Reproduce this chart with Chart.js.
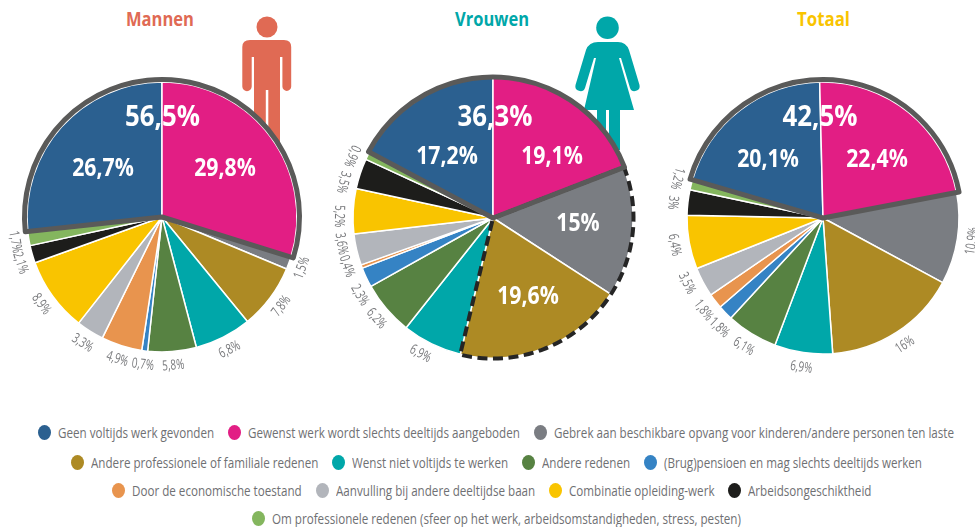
<!DOCTYPE html>
<html><head><meta charset="utf-8">
<script src="https://cdn.jsdelivr.net/npm/chart.js@4"></script>
<style>
html,body{margin:0;padding:0;background:#fff;width:975px;height:527px;overflow:hidden;font-family:"Open Sans",sans-serif}
canvas{position:absolute}
svg{position:absolute;left:0;top:0}
.row{position:absolute;width:975px;display:flex;justify-content:center;align-items:center;color:#6f7073;font-size:15px;height:20px;white-space:nowrap}
.item{display:flex;align-items:center;margin:0 7px}
.dot{width:13px;height:15px;border-radius:50%;margin-right:7px;flex:none}
.txt{display:block;overflow:visible;height:20px;line-height:20px}
.txt span{display:inline-block;transform-origin:0 50%}
</style></head><body>
<svg width="975" height="527">
  <g font-family="Open Sans" font-weight="bold" font-size="20" text-anchor="middle">
    <text x="160" y="26" fill="#e06a54" textLength="68" lengthAdjust="spacingAndGlyphs">Mannen</text>
    <text x="492" y="26" fill="#00a7a9" textLength="74" lengthAdjust="spacingAndGlyphs">Vrouwen</text>
    <text x="823.5" y="26" fill="#f9c400" textLength="53" lengthAdjust="spacingAndGlyphs">Totaal</text>
  </g>
  <g fill="#e06a54">
    <circle cx="267" cy="27" r="10.5"/>
    <path d="M250 40H284Q291.2 40 291.2 47V86.5A4.4 4.4 0 0 1 282.4 86.5V57H280V150H254V57H251.7V86.5A4.7 4.7 0 0 1 242.3 86.5V47Q242.3 40 250 40Z"/>
  </g>
  <rect x="265.8" y="90" width="2.5" height="60" fill="#fff"/>
  <g fill="#00a7a9">
    <circle cx="607.5" cy="27.7" r="11.3"/>
    <path d="M598 42H618Q626 42 629 50L639.5 85A5 5 0 0 1 630 88L621 58H619L634 110H584L596 58H594L585 88A5 5 0 0 1 575.5 85L586 50Q589 42 598 42Z"/>
    <rect x="597" y="109" width="9" height="41"/>
    <rect x="609" y="109" width="11" height="41"/>
  </g>
</svg>
<canvas id="c1" width="320" height="320" style="left:2px;top:57px"></canvas>
<canvas id="c2" width="320" height="320" style="left:333px;top:58px"></canvas>
<canvas id="c3" width="320" height="320" style="left:663px;top:58px"></canvas>
<div class="row" id="r0" style="left:8.5px;top:422px"></div>
<div class="row" id="r1" style="left:9px;top:452px"></div>
<div class="row" id="r2" style="left:4.5px;top:480px"></div>
<div class="row" id="r3" style="left:8.5px;top:508px"></div>
<script>
const categories = ["Geen voltijds werk gevonden","Gewenst werk wordt slechts deeltijds aangeboden","Gebrek aan beschikbare opvang voor kinderen/andere personen ten laste","Andere professionele of familiale redenen","Wenst niet voltijds te werken","Andere redenen","(Brug)pensioen en mag slechts deeltijds werken","Door de economische toestand","Aanvulling bij andere deeltijdse baan","Combinatie opleiding-werk","Arbeidsongeschiktheid","Om professionele redenen (sfeer op het werk, arbeidsomstandigheden, stress, pesten)"];
const colors = ["#2b6090","#e21e84","#7a7d82","#ad8a24","#00a7a9","#578242","#3583c4","#e8944e","#b2b5bb","#f9c400","#1d1d1b","#84b65e"];
const mannen  = [26.7,29.8,1.5,7.8,6.8,5.8,0.7,4.9,3.3,8.9,2.1,1.7];
const vrouwen = [17.2,19.1,15,19.6,6.9,6.2,2.3,0.4,3.6,5.2,3.5,0.9];
const totaal  = [20.1,22.4,10.9,16,6.9,6.1,1.8,1.8,3.5,6.4,3,1.2];
const legendRows = [[0,1,2],[3,4,5,6],[7,8,9,10],[11]];

// Text placement only (offsets from the pie centre in px, angle nudges in degrees)
const setups = [
 {id:"c1",values:mannen,radius:135,gap:14,tilt:0,outlineExtra:2.5,total:"56,5%",totalAt:[0.5,-99],
  inside:{0:[-59,-48],1:[63,-48]},nudge:{10:-2,11:-0.5}},
 {id:"c2",values:vrouwen,radius:140,gap:14,tilt:0,outlineExtra:1,dashed:[2,3],total:"36,3%",totalAt:[2,-100],
  inside:{0:[-46,-61],1:[59,-61],2:[85,6],3:[35,79]},nudge:{4:2.2,5:-0.3,6:-4.9,7:2,8:3.4,9:-2.1,10:-5,11:-2.7}},
 {id:"c3",values:totaal,radius:136,gap:15,tilt:-1.4,outlineExtra:2.5,total:"42,5%",totalAt:[-3,-100],
  inside:{0:[-55,-58],1:[54,-58]},nudge:{6:-2.5,8:2.5,10:-0.7,11:1}}
];
const solidGroup = [0,1];
const fmt = v => String(v).replace(".",",")+"%";

function squeezed(ctx,text,x,y,sx){
  ctx.save();ctx.translate(x,y);ctx.scale(sx,1);ctx.fillText(text,0,0);ctx.restore();
}

const outlinePlugin = {
  id:"outlines",
  afterDraw(chart,args,opts){
    const ctx = chart.ctx, arcs = chart.getDatasetMeta(0).data, s = opts.setup;
    const cx = arcs[0].x, cy = arcs[0].y;
    const outline = (idx,color,w,dash,extra)=>{
      ctx.save();
      ctx.beginPath();
      ctx.moveTo(cx,cy);
      ctx.arc(cx,cy,s.radius+extra,arcs[idx[0]].startAngle,arcs[idx[idx.length-1]].endAngle);
      ctx.closePath();
      ctx.strokeStyle=color;ctx.lineWidth=w;ctx.setLineDash(dash);ctx.lineJoin="round";ctx.stroke();
      ctx.restore();
    };
    if(s.dashed) outline(s.dashed,"#252525",4,[10,5.5],0.5);
    outline(solidGroup,"#5a5a59",5,[],s.outlineExtra);
    ctx.save();
    ctx.textAlign="center";ctx.textBaseline="middle";
    s.values.forEach((v,i)=>{
      if(s.inside[i]){
        ctx.fillStyle="#fff";ctx.font='bold 25px "Open Sans"';
        squeezed(ctx,fmt(v),cx+s.inside[i][0],cy+s.inside[i][1],0.85);
      } else {
        const a=arcs[i];
        const mid=(a.startAngle+a.endAngle)/2+(s.nudge[i]||0)*Math.PI/180;
        const r=s.radius+s.gap;
        ctx.save();
        ctx.translate(cx+Math.cos(mid)*r,cy+Math.sin(mid)*r);
        ctx.rotate(mid-Math.PI/2);
        ctx.fillStyle="#77787b";ctx.font='14px "Open Sans"';
        squeezed(ctx,fmt(v),0,0,0.71);
        ctx.restore();
      }
    });
    ctx.fillStyle="#fff";ctx.font='bold 29px "Open Sans"';
    squeezed(ctx,s.total,cx+s.totalAt[0],cy+s.totalAt[1],0.89);
    ctx.restore();
  }
};

setups.forEach(s=>{
  new Chart(document.getElementById(s.id),{
    type:"pie",
    data:{labels:categories,datasets:[{data:s.values,backgroundColor:colors,borderColor:"#fff",borderWidth:1.5}]},
    options:{
      responsive:false,animation:false,
      radius:s.radius,
      rotation:s.tilt-s.values[0]/s.values.reduce((a,b)=>a+b,0)*360,
      layout:{padding:0},
      plugins:{legend:{display:false},tooltip:{enabled:false},outlines:{setup:s}}
    },
    plugins:[outlinePlugin]
  });
});

// Legend text is condensed to the reference's width
const meas=document.createElement("canvas").getContext("2d");
meas.font='15px "Open Sans"';
const legendScale=400/meas.measureText(categories[2]).width;
legendRows.forEach((row,i)=>{
  const el=document.getElementById("r"+i);
  row.forEach(k=>{
    const it=document.createElement("div");it.className="item";
    const d=document.createElement("span");d.className="dot";d.style.background=colors[k];
    const t=document.createElement("div");t.className="txt";
    const w=meas.measureText(categories[k]).width;
    t.style.width=(w*legendScale)+"px";
    const sp=document.createElement("span");sp.textContent=categories[k];
    sp.style.transform="scaleX("+legendScale+")";
    t.append(sp);it.append(d,t);el.append(it);
  });
});
</script>
</body></html>
